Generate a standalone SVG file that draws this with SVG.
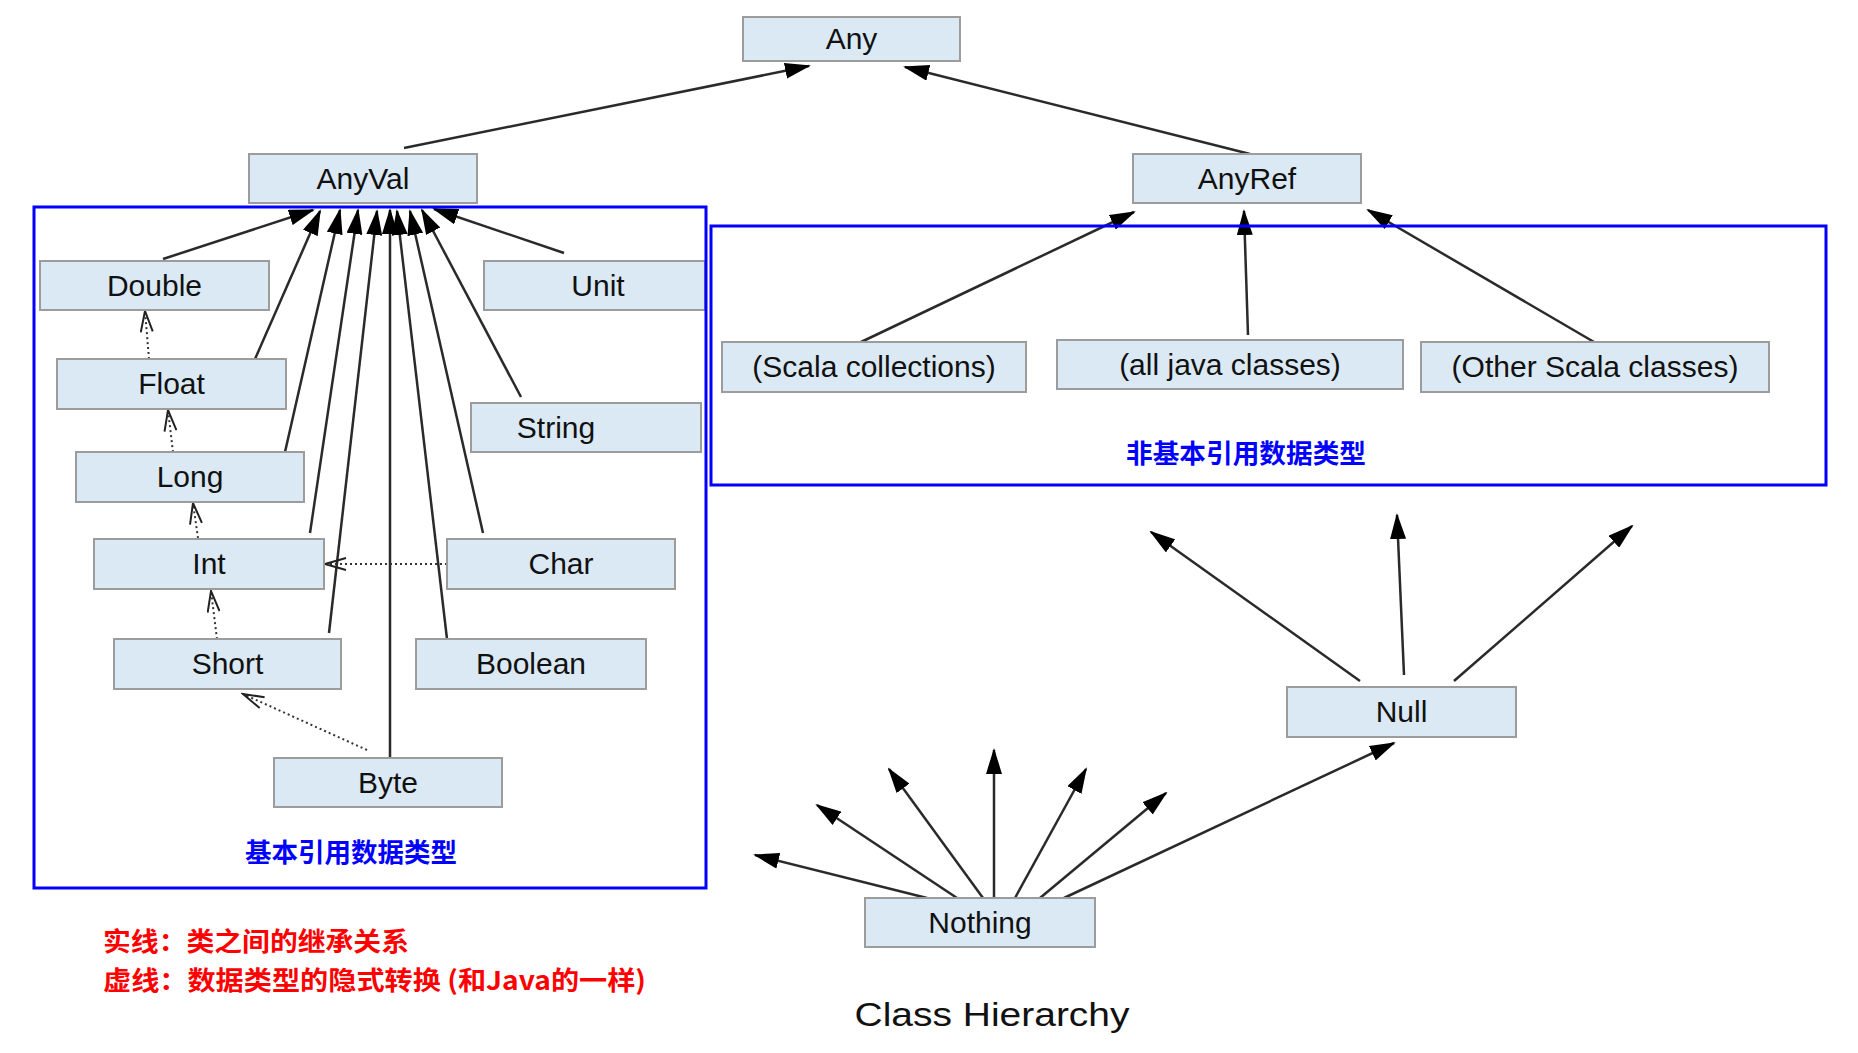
<svg xmlns="http://www.w3.org/2000/svg" width="1858" height="1053" viewBox="0 0 1858 1053">
<style>
.node rect { fill:#dbe9f5; stroke:#9c9c9c; stroke-width:2; }
.node text { font-family:"Liberation Sans", Arial, sans-serif; font-size:30px; fill:#111; text-anchor:middle; }
.edge { stroke:#2a2a2a; stroke-width:2.5; fill:none; marker-end:url(#ah); }
.conv { stroke:#333; stroke-width:2; stroke-dasharray:2 3; fill:none; marker-end:url(#oa); }
.frame { fill:none; stroke:#0000ff; stroke-width:3; }
.cnb { font-family:"Noto Sans CJK SC", sans-serif; font-weight:bold; font-size:26px; fill:#0000ff; text-anchor:middle; }
.cnr { font-family:"Noto Sans CJK SC", sans-serif; font-weight:bold; font-size:26px; fill:#ff0000; }
.title { font-family:"Liberation Sans", Arial, sans-serif; font-size:33px; fill:#111; text-anchor:middle; }
</style>
<defs>
<marker id="ah" markerUnits="userSpaceOnUse" markerWidth="26" markerHeight="16" viewBox="0 0 26 16" refX="24" refY="8" orient="auto">
<path d="M0,0 L26,8 L0,16 z" fill="#000"/>
</marker>
<marker id="oa" markerUnits="userSpaceOnUse" markerWidth="24" markerHeight="14" viewBox="0 0 24 14" refX="22" refY="7" orient="auto">
<path d="M1,1 L22,7 L1,13" fill="none" stroke="#222" stroke-width="2"/>
</marker>
</defs>
<rect width="1858" height="1053" fill="#fff"/>

<g id="connectors">
<line class="edge" x1="404" y1="148" x2="809" y2="66"/>
<line class="edge" x1="1250" y1="154" x2="905" y2="67"/>
<line class="edge" x1="163" y1="259" x2="313" y2="210"/>
<line class="edge" x1="255" y1="359" x2="320" y2="211"/>
<line class="edge" x1="285" y1="452" x2="340" y2="210"/>
<line class="edge" x1="310" y1="533" x2="358" y2="210"/>
<line class="edge" x1="329" y1="633" x2="377" y2="211"/>
<line class="edge" x1="390" y1="757" x2="390" y2="210"/>
<line class="edge" x1="447" y1="639" x2="397" y2="211"/>
<line class="edge" x1="483" y1="533" x2="410" y2="211"/>
<line class="edge" x1="521" y1="397" x2="422" y2="210"/>
<line class="edge" x1="564" y1="253" x2="434" y2="209"/>
<line class="edge" x1="859" y1="343" x2="1134" y2="212"/>
<line class="edge" x1="1248" y1="335" x2="1244" y2="211"/>
<line class="edge" x1="1594" y1="342" x2="1368" y2="210"/>
<line class="edge" x1="1360" y1="681" x2="1151" y2="532"/>
<line class="edge" x1="1404" y1="675" x2="1397" y2="515"/>
<line class="edge" x1="1454" y1="681" x2="1632" y2="526"/>
<line class="edge" x1="1064" y1="898" x2="1394" y2="743"/>
<line class="edge" x1="927" y1="898" x2="755" y2="855"/>
<line class="edge" x1="957" y1="898" x2="817" y2="805"/>
<line class="edge" x1="983" y1="898" x2="889" y2="769"/>
<line class="edge" x1="994" y1="898" x2="994" y2="750"/>
<line class="edge" x1="1015" y1="898" x2="1086" y2="769"/>
<line class="edge" x1="1040" y1="898" x2="1166" y2="793"/>
<line class="conv" x1="149" y1="359" x2="145" y2="311"/>
<line class="conv" x1="173" y1="452" x2="168" y2="410"/>
<line class="conv" x1="198" y1="538" x2="193" y2="503"/>
<line class="conv" x1="217" y1="639" x2="211" y2="591"/>
<line class="conv" x1="447" y1="564" x2="325" y2="564"/>
<line class="conv" x1="367" y1="750" x2="243" y2="694"/>
</g>

<g id="n-any" class="node"><rect x="743" y="17" width="217" height="44"/><text x="851.5" y="49">Any</text></g>
<g id="n-anyval" class="node"><rect x="249" y="154" width="228" height="49"/><text x="363" y="189">AnyVal</text></g>
<g id="n-anyref" class="node"><rect x="1133" y="154" width="228" height="49"/><text x="1247" y="189">AnyRef</text></g>
<g id="n-double" class="node"><rect x="40" y="261" width="229" height="49"/><text x="154.5" y="296">Double</text></g>
<g id="n-unit" class="node"><rect x="484" y="261" width="221" height="49"/><text x="598" y="296">Unit</text></g>
<g id="n-float" class="node"><rect x="57" y="359" width="229" height="50"/><text x="171.5" y="394">Float</text></g>
<g id="n-string" class="node"><rect x="471" y="403" width="230" height="49"/><text x="556" y="438">String</text></g>
<g id="n-long" class="node"><rect x="76" y="452" width="228" height="50"/><text x="190" y="487">Long</text></g>
<g id="n-int" class="node"><rect x="94" y="539" width="230" height="50"/><text x="209" y="574">Int</text></g>
<g id="n-char" class="node"><rect x="447" y="539" width="228" height="50"/><text x="561" y="574">Char</text></g>
<g id="n-short" class="node"><rect x="114" y="639" width="227" height="50"/><text x="227.5" y="674">Short</text></g>
<g id="n-boolean" class="node"><rect x="416" y="639" width="230" height="50"/><text x="531" y="674">Boolean</text></g>
<g id="n-byte" class="node"><rect x="274" y="758" width="228" height="49"/><text x="388" y="793">Byte</text></g>
<g id="n-scala-coll" class="node"><rect x="722" y="342" width="304" height="50"/><text x="874" y="377">(Scala collections)</text></g>
<g id="n-java" class="node"><rect x="1057" y="340" width="346" height="49"/><text x="1230" y="375">(all java classes)</text></g>
<g id="n-other" class="node"><rect x="1421" y="342" width="348" height="50"/><text x="1595" y="377">(Other Scala classes)</text></g>
<g id="n-null" class="node"><rect x="1287" y="687" width="229" height="50"/><text x="1401.5" y="722">Null</text></g>
<g id="n-nothing" class="node"><rect x="865" y="898" width="230" height="49"/><text x="980" y="933">Nothing</text></g>

<g id="frames">
<rect class="frame" x="34" y="207" width="672" height="681"/>
<rect class="frame" x="711" y="226" width="1115" height="259"/>
<text class="cnb" x="351" y="862" textLength="212" lengthAdjust="spacingAndGlyphs">基本引用数据类型</text>
<text class="cnb" x="1246" y="463" textLength="240" lengthAdjust="spacingAndGlyphs">非基本引用数据类型</text>
</g>

<g id="legend">
<text class="cnr" x="103" y="951" textLength="306" lengthAdjust="spacingAndGlyphs">实线：类之间的继承关系</text>
<text class="cnr" x="103" y="990" textLength="543" lengthAdjust="spacingAndGlyphs">虚线：数据类型的隐式转换 (和Java的一样)</text>
</g>
<text class="title" x="992" y="1026" textLength="275" lengthAdjust="spacingAndGlyphs">Class Hierarchy</text>
</svg>
